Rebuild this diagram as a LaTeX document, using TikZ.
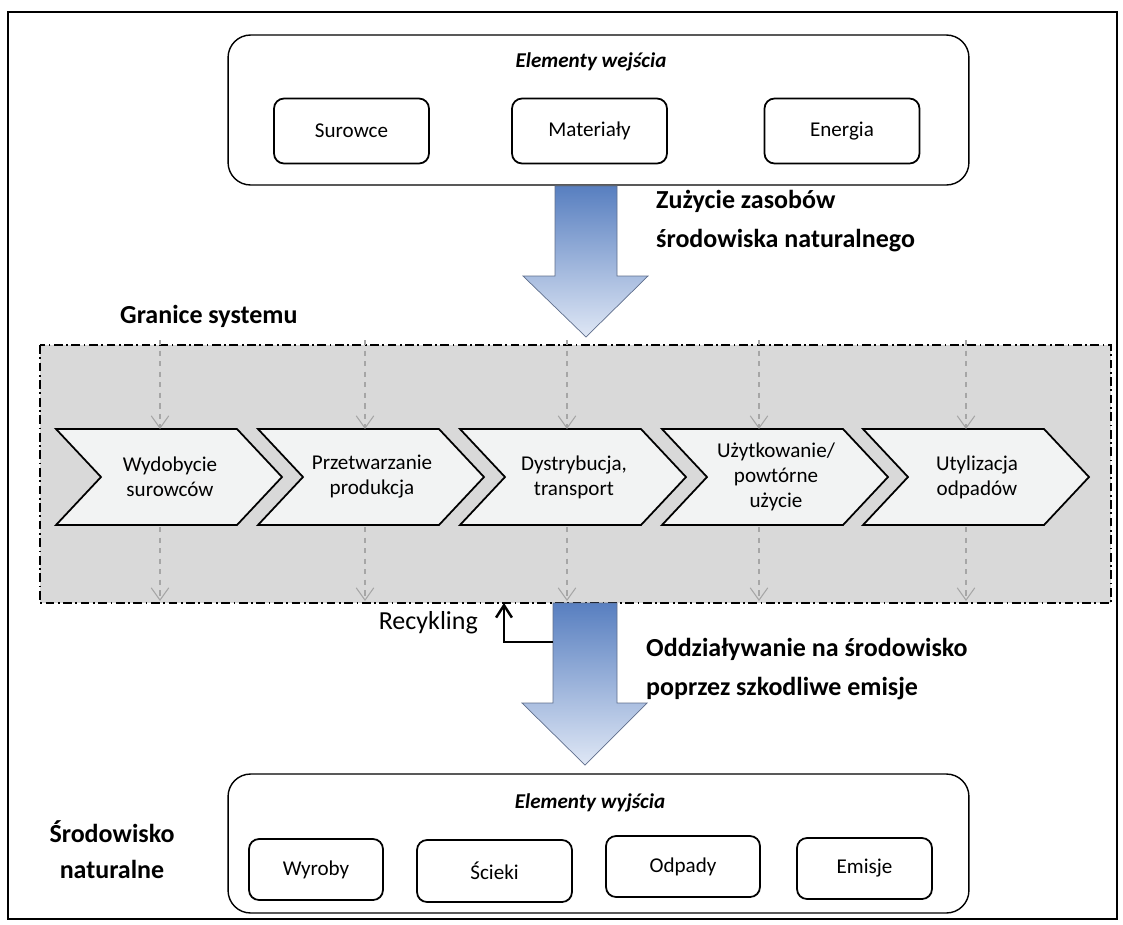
\documentclass[tikz,border=0pt]{standalone}
\usepackage{fontspec}
\setmainfont{Carlito}
\usetikzlibrary{arrows.meta}
\definecolor{systemgray}{RGB}{217,217,217}
\definecolor{stagefill}{RGB}{242,243,243}
\definecolor{flowgray}{RGB}{166,166,166}
\definecolor{arrowtop}{RGB}{88,127,192}
\definecolor{arrowbottom}{RGB}{223,231,245}
\definecolor{arrowedge}{RGB}{95,110,140}

\tikzset{
  groupbox/.style={draw, line width=0.8pt, rounded corners=0.45cm, minimum width=14.82cm},
  itembox/.style={draw, line width=1pt, rounded corners=0.2cm, font=\fontsize{12}{14}\selectfont},
  stage/.style={draw, line width=1pt, fill=stagefill},
  stagetext/.style={align=center, font=\fontsize{12}{14.2}\selectfont},
  flow/.style={draw=flowgray, dashed, line width=0.6pt, -{Straight Barb[length=7pt,width=10pt]}},
  heading/.style={align=left, font=\fontsize{14.8}{22.5}\selectfont\bfseries},
  title/.style={font=\fontsize{12}{14}\selectfont\bfseries\itshape},
  bigarrow/.style={draw=arrowedge, line width=0.4pt, top color=arrowtop, bottom color=arrowbottom}
}

\begin{document}
\begin{tikzpicture}[x=0.02cm, y=-0.02cm]
    \useasboundingbox (0,0) rectangle (1123,924);

    % Outer frame
    \draw[line width=1.1pt] (8,12) rectangle (1117,919);

    % Inputs
    \node[groupbox, minimum height=3cm] (inputs) at (598.5,110) {};
    \node[title] (intitle) at (591,62) {Elementy wejścia};
    \node[itembox, minimum width=3.1cm, minimum height=1.3cm] (surowce) at (351.5,131) {Surowce};
    \node[itembox, minimum width=3.1cm, minimum height=1.3cm] (materialy) at (589.5,131) {Materiały};
    \node[itembox, minimum width=3.1cm, minimum height=1.3cm] (energia) at (842,131) {Energia};

    % Resource use arrow
    \shade[bigarrow] (555,186) -- (617,186) -- (617,276) -- (648,276) -- (586,337)
        -- (523,276) -- (555,276) -- cycle;
    \node[heading, anchor=west] (zuzycie) at (650,221) {Zużycie zasobów\\środowiska naturalnego};

    % System boundary
    \node[heading, anchor=west] (granice) at (114,316) {Granice systemu};
    \draw[fill=systemgray, line width=0.8pt, dash pattern=on 5pt off 2pt on 1pt off 2pt]
        (40,345) rectangle (1111,603);

    % Life cycle stages
    \foreach \i/\x/\ax/\txt in {1/56/160/{Wydobycie\\surowców},
                                2/258/365/{Przetwarzanie\\produkcja},
                                3/460/567/{Dystrybucja,\\transport},
                                4/662/759/{Użytkowanie/\\powtórne\\użycie},
                                5/863/966/{Utylizacja\\odpadów}} {
        \draw[stage] (\x,429) -- ++(181,0) -- ++(45,48) -- ++(-45,48) -- ++(-181,0)
            -- ++(45,-48) -- cycle;
        \node[stagetext] (stage\i) at (\x+114,477) {\txt};
        \coordinate (in\i) at (\ax,340);
        \coordinate (top\i) at (\ax,429);
        \coordinate (bot\i) at (\ax,527);
        \coordinate (out\i) at (\ax,601);
        \draw[flow] (in\i) -- (top\i);
        \draw[flow] (bot\i) -- (out\i);
    }

    % Emission arrow
    \shade[bigarrow] (553,603) -- (617,603) -- (617,703) -- (647,703) -- (585,765)
        -- (522,703) -- (553,703) -- cycle;
    \node[heading, anchor=west] (oddz) at (640,669) {Oddziaływanie na środowisko\\poprzez szkodliwe emisje};

    % Recycling
    \coordinate (shaft) at (553,642);
    \coordinate (back) at (504,603);
    \draw[line width=1.4pt, -{Straight Barb[length=7pt,width=9pt]}] (shaft) -| (back);
    \node[anchor=east, font=\fontsize{14.8}{17}\selectfont] (rec) at (484,623) {Recykling};

    % Outputs
    \node[groupbox, minimum height=2.78cm] (outputs) at (598.5,843.5) {};
    \node[title] (outtitle) at (590,803) {Elementy wyjścia};
    \node[itembox, minimum width=2.68cm, minimum height=1.22cm] (wyroby) at (316,869.5) {Wyroby};
    \node[itembox, minimum width=3.1cm, minimum height=1.24cm] (scieki) at (494.5,871) {Ścieki};
    \node[itembox, minimum width=3.08cm, minimum height=1.22cm] (odpady) at (683,866.5) {Odpady};
    \node[itembox, minimum width=2.7cm, minimum height=1.22cm] (emisje) at (864.5,868.5) {Emisje};
    \node[heading, align=center, font=\fontsize{14.8}{20.5}\selectfont\bfseries] (srodowisko) at (112,850) {Środowisko\\naturalne};
\end{tikzpicture}
\end{document}
